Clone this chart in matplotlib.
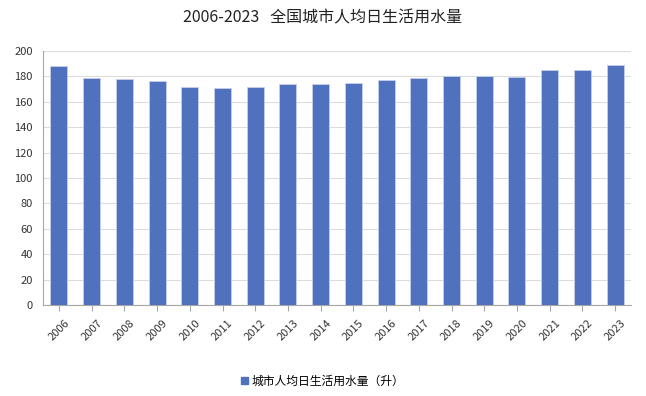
import matplotlib
matplotlib.use("Agg")
import matplotlib.pyplot as plt
from matplotlib.patches import Patch

plt.rcParams["font.family"] = ["Noto Sans CJK SC", "DejaVu Sans"]

years = [str(y) for y in range(2006, 2024)]
water_use = [188.4, 178.4, 178.2, 176.6, 171.3, 170.8, 171.9, 173.7, 174.0,
             174.8, 177.1, 179.0, 180.0, 180.3, 179.5, 185.2, 184.7, 188.9]
y_ticks = list(range(0, 201, 20))

title = "2006-2023   全国城市人均日生活用水量"
series_name = "城市人均日生活用水量（升）"
bar_color = "#4f71be"

fig = plt.figure(figsize=(6.46, 3.96), dpi=100)
ax = fig.add_axes([0.066, 0.2298, 0.9115, 0.6414])

x = range(len(years))
ax.bar(x, water_use, width=0.52, color=bar_color, edgecolor="#c5d0ea",
       linewidth=0.6, zorder=3)

ax.set_xlim(-0.5, len(years) - 0.5)
ax.set_ylim(0, 200)
ax.set_yticks(y_ticks)
ax.set_xticks(list(x))
ax.set_xticklabels(years, rotation=45, fontsize=8, color="#333333")
ax.tick_params(axis="y", labelsize=8, colors="#333333", length=0, pad=7)
ax.tick_params(axis="x", length=4, color="#a6a6a6", pad=5)
ax.grid(axis="y", color="#dcdcdc", linewidth=0.8, zorder=0)

for side in ["top", "right"]:
    ax.spines[side].set_visible(False)
ax.spines["left"].set_color("#a6a6a6")
ax.spines["bottom"].set_color("#a6a6a6")

fig.text(0.5, 0.955, title, ha="center", va="center", fontsize=11.5, color="#222222")

fig.legend(handles=[Patch(color=bar_color, label=series_name)],
           loc="center", bbox_to_anchor=(0.5, 0.038), frameon=False,
           fontsize=8.5, handlelength=0.6, handleheight=0.6, handletextpad=0.3)

fig.savefig("out.png", dpi=100)
